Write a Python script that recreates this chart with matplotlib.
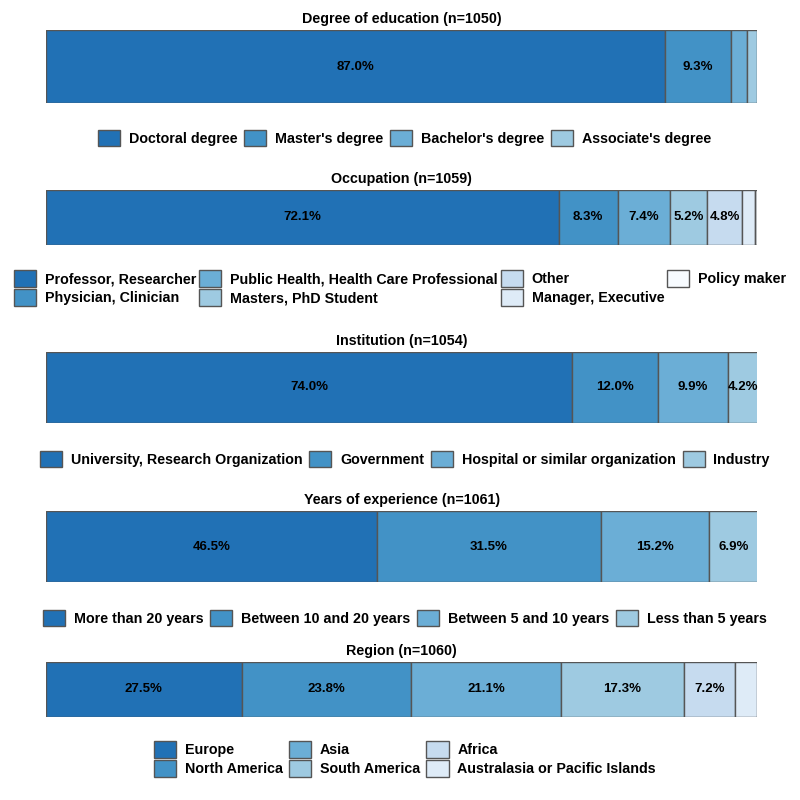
import matplotlib
matplotlib.use("Agg")
import matplotlib.pyplot as plt
from matplotlib.patches import Patch

plt.rcParams['font.family'] = ['Liberation Sans', 'DejaVu Sans']
plt.rcParams['font.weight'] = 'bold'

blues = ['#2171b5', '#4292c6', '#6baed6', '#9ecae1', '#c6dbef', '#deebf7', '#f7fbff']

edu_title = "Degree of education (n=1050)"
edu_cats = ["Doctoral degree", "Master's degree", "Bachelor's degree", "Associate's degree"]
edu_vals = [87.0, 9.3, 2.2, 1.5]

occ_title = "Occupation (n=1059)"
occ_cats = ["Professor, Researcher", "Physician, Clinician", "Public Health, Health Care Professional",
            "Masters, PhD Student", "Other", "Manager, Executive", "Policy maker"]
occ_vals = [72.1, 8.3, 7.4, 5.2, 4.8, 1.9, 0.3]

inst_title = "Institution (n=1054)"
inst_cats = ["University, Research Organization", "Government", "Hospital or similar organization", "Industry"]
inst_vals = [74.0, 12.0, 9.9, 4.2]

yrs_title = "Years of experience (n=1061)"
yrs_cats = ["More than 20 years", "Between 10 and 20 years", "Between 5 and 10 years", "Less than 5 years"]
yrs_vals = [46.5, 31.5, 15.2, 6.9]

reg_title = "Region (n=1060)"
reg_cats = ["Europe", "North America", "Asia", "South America", "Africa", "Australasia or Pacific Islands"]
reg_vals = [27.5, 23.8, 21.1, 17.3, 7.2, 3.1]

fig = plt.figure(figsize=(8, 8), dpi=100)

panels = [
    (edu_title, edu_cats, edu_vals, (0.0575, 0.87125, 0.889, 0.09125), 0.8275, 4, 0.48, 0.506),
    (occ_title, occ_cats, occ_vals, (0.0575, 0.69375, 0.889, 0.06875), 0.640, 4, 0.22, 0.5),
    (inst_title, inst_cats, inst_vals, (0.0575, 0.47125, 0.889, 0.08875), 0.42625, 4, 0.48, 0.506),
    (yrs_title, yrs_cats, yrs_vals, (0.0575, 0.2725, 0.889, 0.08875), 0.2275, 4, 0.48, 0.506),
    (reg_title, reg_cats, reg_vals, (0.0575, 0.10375, 0.889, 0.06875), 0.05125, 3, 0.45, 0.506),
]

for title, cats, vals, rect, leg_y, ncol, colsp, leg_x in panels:
    ax = fig.add_axes(rect)
    left = 0.0
    handles = []
    for i, (c, v) in enumerate(zip(cats, vals)):
        ax.barh(0, v, left=left, height=1.0, color=blues[i], edgecolor='#555555', linewidth=1.0)
        if v > 4:
            ax.text(left + v / 2, 0, f"{v:.1f}%", ha='center', va='center', fontsize=9.5,
                    fontweight='bold', color='black')
        left += v
        handles.append(Patch(facecolor=blues[i], edgecolor='#555555', linewidth=1.0, label=c))
    ax.set_xlim(0, 100)
    ax.set_ylim(-0.5, 0.5)
    ax.axis('off')
    ax.set_title(title, fontsize=10.3, fontweight='bold', pad=5)
    fig.legend(handles=handles, loc='center', bbox_to_anchor=(leg_x, leg_y), ncol=ncol,
               frameon=False, fontsize=10.25, handlelength=1.55, handleheight=1.4,
               handletextpad=0.62, columnspacing=colsp, labelspacing=0.15, borderpad=0)

fig.savefig("out.png", dpi=100)
